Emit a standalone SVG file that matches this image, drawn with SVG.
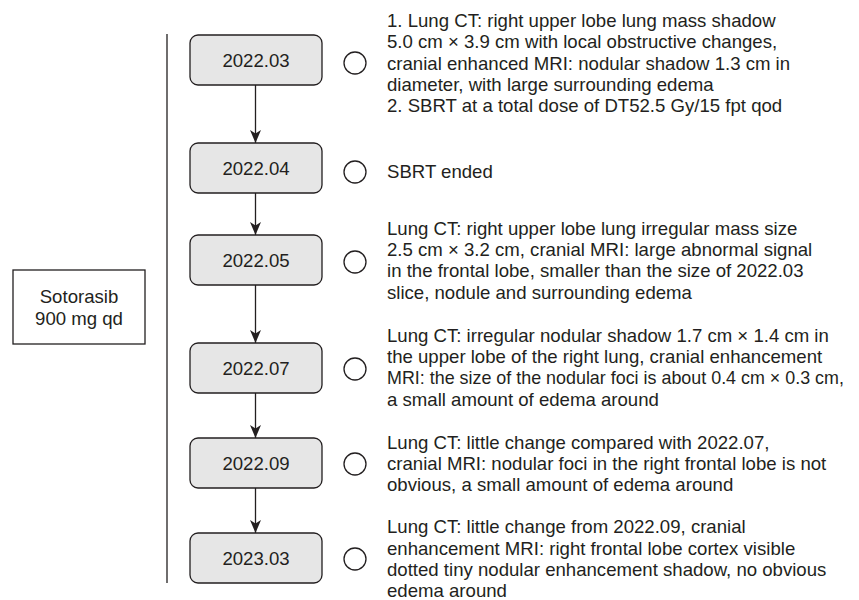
<svg xmlns="http://www.w3.org/2000/svg" width="859" height="600" viewBox="0 0 859 600">
<style>
text{font-family:"Liberation Sans",Arial,sans-serif;font-size:18.6px;fill:#231f20}
.box{fill:#e6e6e6;stroke:#231f20;stroke-width:1.3}
.c{fill:#fff;stroke:#231f20;stroke-width:1.3}
.lbl{text-anchor:middle}
.conn{stroke:#231f20;stroke-width:1.3;fill:none}
.sm{font-size:17.9px}
</style>
<defs>
<marker id="ah" viewBox="0 0 13 12" refX="13" refY="6" markerWidth="13" markerHeight="12" markerUnits="userSpaceOnUse" orient="auto">
<path d="M0,0.5 L13,6 L0,11.5 L3.5,6 Z" fill="#231f20"/>
</marker>
</defs>
<rect width="859" height="600" fill="#fff"/>
<line x1="167" y1="34" x2="167" y2="583" stroke="#231f20" stroke-width="1.3"/>
<g id="sotorasib">
<rect x="13" y="270" width="132" height="74" fill="#fff" stroke="#231f20" stroke-width="1.3"/>
<text class="lbl" x="79" y="303">Sotorasib</text>
<text class="lbl" x="79" y="325">900 mg qd</text>
</g>
<g id="connectors">
<line class="conn" x1="255.5" y1="85" x2="255.5" y2="143" marker-end="url(#ah)"/>
<line class="conn" x1="255.5" y1="193" x2="255.5" y2="235" marker-end="url(#ah)"/>
<line class="conn" x1="255.5" y1="285" x2="255.5" y2="343" marker-end="url(#ah)"/>
<line class="conn" x1="255.5" y1="393" x2="255.5" y2="438" marker-end="url(#ah)"/>
<line class="conn" x1="255.5" y1="488" x2="255.5" y2="533" marker-end="url(#ah)"/>
</g>
<g id="n1">
<rect class="box" x="190" y="35" width="132" height="50" rx="8"/>
<text class="lbl" x="256" y="66.5">2022.03</text>
<circle class="c" cx="355" cy="63" r="11"/>
<text x="387" y="27">1. Lung CT: right upper lobe lung mass shadow</text>
<text x="387" y="48.3">5.0 cm × 3.9 cm with local obstructive changes,</text>
<text x="387" y="69.6">cranial enhanced MRI: nodular shadow 1.3 cm in</text>
<text x="387" y="91">diameter, with large surrounding edema</text>
<text x="387" y="112.3">2. SBRT at a total dose of DT52.5 Gy/15 fpt qod</text>
</g>
<g id="n2">
<rect class="box" x="190" y="143" width="132" height="50" rx="8"/>
<text class="lbl" x="256" y="174.5">2022.04</text>
<circle class="c" cx="355" cy="172" r="11"/>
<text x="387" y="178">SBRT ended</text>
</g>
<g id="n3">
<rect class="box" x="190" y="235" width="132" height="50" rx="8"/>
<text class="lbl" x="256" y="266.5">2022.05</text>
<circle class="c" cx="355" cy="262" r="11"/>
<text x="387" y="234.6">Lung CT: right upper lobe lung irregular mass size</text>
<text x="387" y="256">2.5 cm × 3.2 cm, cranial MRI: large abnormal signal</text>
<text x="387" y="277.3">in the frontal lobe, smaller than the size of 2022.03</text>
<text x="387" y="298.6">slice, nodule and surrounding edema</text>
</g>
<g id="n4">
<rect class="box" x="190" y="343" width="132" height="50" rx="8"/>
<text class="lbl" x="256" y="374.5">2022.07</text>
<circle class="c" cx="355" cy="369" r="11"/>
<text x="387" y="341.7">Lung CT: irregular nodular shadow 1.7 cm × 1.4 cm in</text>
<text x="387" y="363">the upper lobe of the right lung, cranial enhancement</text>
<text class="sm" x="387" y="384.3">MRI: the size of the nodular foci is about 0.4 cm × 0.3 cm,</text>
<text x="387" y="405.6">a small amount of edema around</text>
</g>
<g id="n5">
<rect class="box" x="190" y="438" width="132" height="50" rx="8"/>
<text class="lbl" x="256" y="469.5">2022.09</text>
<circle class="c" cx="355" cy="464" r="11"/>
<text x="387" y="448.6">Lung CT: little change compared with 2022.07,</text>
<text x="387" y="469.9">cranial MRI: nodular foci in the right frontal lobe is not</text>
<text x="387" y="491.2">obvious, a small amount of edema around</text>
</g>
<g id="n6">
<rect class="box" x="190" y="533" width="132" height="50" rx="8"/>
<text class="lbl" x="256" y="564.5">2023.03</text>
<circle class="c" cx="355" cy="559" r="11"/>
<text x="387" y="533.3">Lung CT: little change from 2022.09, cranial</text>
<text x="387" y="554.6">enhancement MRI: right frontal lobe cortex visible</text>
<text x="387" y="575.9">dotted tiny nodular enhancement shadow, no obvious</text>
<text x="387" y="597.2">edema around</text>
</g>
</svg>
